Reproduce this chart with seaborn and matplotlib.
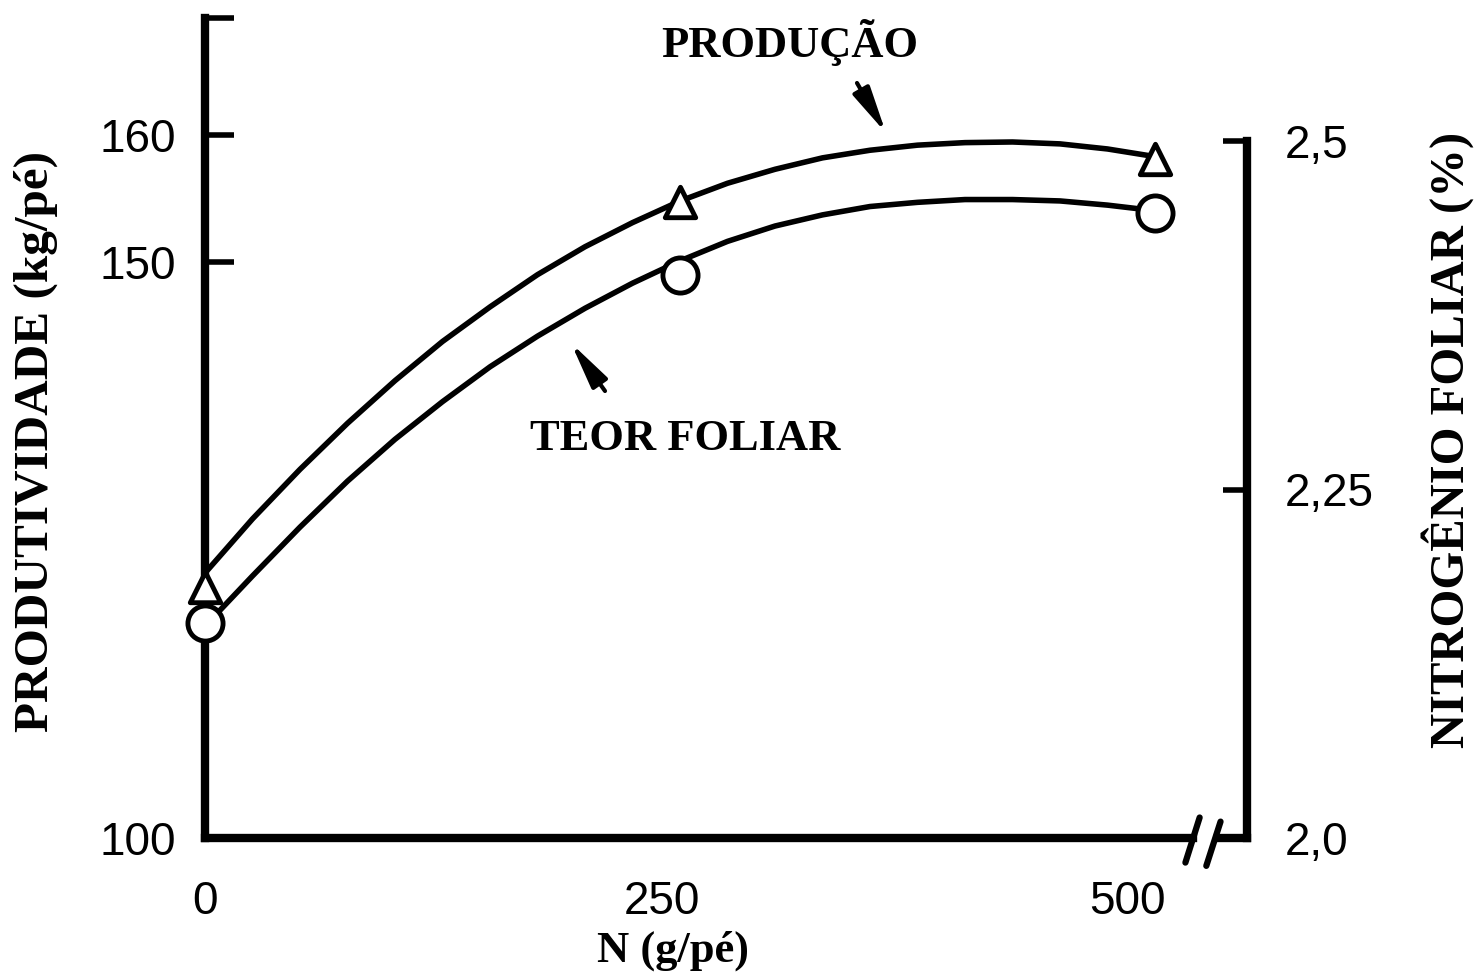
import numpy as np
import pandas as pd
import matplotlib
matplotlib.use("Agg")
import matplotlib.pyplot as plt
import seaborn as sns
from matplotlib.transforms import ScaledTranslation

# ---------------- data ----------------
n_dose = [0, 25, 50, 75, 100, 125, 150, 175, 200, 225, 250,
          275, 300, 325, 350, 375, 400, 425, 450, 475, 500]
producao_curve = [123.0, 127.7, 132.0, 136.0, 139.7, 143.1, 146.1, 148.9, 151.2, 153.1, 154.8,
                  156.2, 157.3, 158.2, 158.8, 159.2, 159.4, 159.45, 159.3, 158.9, 158.3]
teor_curve = [2.152, 2.188, 2.223, 2.256, 2.286, 2.313, 2.338, 2.360, 2.380, 2.398, 2.414,
              2.428, 2.439, 2.447, 2.453, 2.456, 2.458, 2.458, 2.457, 2.454, 2.450]
dose_obs = [0, 250, 500]
producao_obs = [121.8, 154.7, 158.1]
teor_obs = [2.154, 2.404, 2.448]

x_ticks = [0, 250, 500]
x_labels = ["0", "250", "500"]
left_ticks = [100, 150, 160]
left_labels = ["100", "150", "160"]
right_ticks = [2.0, 2.25, 2.5]
right_labels = ["2,0", "2,25", "2,5"]

curves = pd.DataFrame({"N": n_dose, "prod": producao_curve, "teor": teor_curve})
obs = pd.DataFrame({"N": dose_obs, "prod": producao_obs, "teor": teor_obs})

# ---------------- style ----------------
sns.set_style("white")
plt.rcParams["font.family"] = ["Liberation Sans", "DejaVu Sans"]
for key in ("text.color", "axes.labelcolor", "xtick.color", "ytick.color", "axes.edgecolor"):
    plt.rcParams[key] = "black"
SERIF = ["Liberation Serif", "DejaVu Serif"]

W, H = 1476, 977
fig = plt.figure(figsize=(W / 100, H / 100), dpi=100)
ax_l, ax_r, ax_b, ax_t = 205, 1247, 838, 18
ax = fig.add_axes([ax_l / W, (H - ax_b) / H, (ax_r - ax_l) / W, (ax_b - ax_t) / H])
ax_h = ax_b - ax_t

# broken left axis: 100..150 compressed, 150..160 expanded
def fwd(v):
    v = np.asarray(v, dtype=float)
    return np.where(v < 150, (v - 150) * 11.52, (v - 150) * 12.7)

def inv(u):
    u = np.asarray(u, dtype=float)
    return np.where(u < 0, u / 11.52 + 150, u / 12.7 + 150)

lw_curve = 4.0
sns.lineplot(data=curves, x="N", y="prod", ax=ax, color="black",
             linewidth=lw_curve, sort=False)
sns.scatterplot(data=obs, x="N", y="prod", ax=ax, marker="^", s=480,
                color="white", edgecolor="black", linewidth=3.5,
                zorder=5, clip_on=False)

ax.set_yscale("function", functions=(fwd, inv))
ytop = float(inv(fwd(100) + ax_h))
ax.set_ylim(100, ytop)
xmax = (ax_r - ax_l) / 1.9
ax.set_xlim(0, xmax)

ax2 = ax.twinx()
sns.lineplot(data=curves, x="N", y="teor", ax=ax2, color="black",
             linewidth=lw_curve, sort=False)
sns.scatterplot(data=obs, x="N", y="teor", ax=ax2, marker="o", s=640,
                color="white", edgecolor="black", linewidth=3.5,
                zorder=5, clip_on=False)
ax2.set_ylim(2.0, 2.0 + ax_h / 1394)
ax2.set_xlim(0, xmax)

# ---------------- spines ----------------
SP = 6
for a in (ax, ax2):
    a.spines["top"].set_visible(False)
    a.grid(False)
ax.spines["right"].set_visible(False)
ax2.spines["left"].set_visible(False)
ax2.spines["bottom"].set_visible(False)
ax.spines["left"].set_linewidth(SP)
ax.spines["bottom"].set_linewidth(SP)
ax2.spines["right"].set_linewidth(SP)
for s in (ax.spines["left"], ax.spines["bottom"], ax2.spines["right"]):
    s.set_capstyle("projecting")
    s.set_color("black")
ax2.spines["right"].set_bounds(2.0, 2.5)
ax.spines["bottom"].set_bounds(0, 520)
xt = ax.get_xaxis_transform()
ax.plot([533, xmax], [0, 0], transform=xt, color="black", lw=SP,
        solid_capstyle="projecting", clip_on=False)
# break marks
for x0, x1, y0, y1 in [(516.0, 523.5, -0.030, 0.025), (527.0, 534.5, -0.034, 0.020)]:
    ax.plot([x0, x1], [y0, y1], transform=xt, color="black", lw=4.5,
            solid_capstyle="round", clip_on=False)

# ---------------- ticks ----------------
ax.set_yticks(left_ticks + [ytop])
ax.set_yticklabels(left_labels + [""])
ax.tick_params(axis="y", direction="in", length=21, width=4, pad=21,
               labelsize=33, colors="black")
ax.set_xticks(x_ticks)
ax.set_xticklabels(x_labels)
ax.tick_params(axis="x", direction="in", length=17, width=4, pad=30,
               labelsize=33, colors="black")
ax.yaxis.set_minor_locator(matplotlib.ticker.NullLocator())
ax2.set_yticks(right_ticks)
ax2.set_yticklabels(right_labels)
ax2.tick_params(axis="y", direction="in", length=17, width=4, pad=27,
                labelsize=33, colors="black")
ax2.yaxis.set_minor_locator(matplotlib.ticker.NullLocator())
ax2.tick_params(axis="x", bottom=False, labelbottom=False)

# nudge hand-lettered x labels as in the original
xticks_objs = ax.xaxis.get_major_ticks()
for idx, dx in [(1, -18), (2, -28)]:
    lab = xticks_objs[idx].label1
    lab.set_transform(lab.get_transform() + ScaledTranslation(dx / 100, 0, fig.dpi_scale_trans))

# ---------------- axis labels ----------------
ax.set_ylabel("PRODUTIVIDADE (kg/pé)", family=SERIF, fontweight="bold",
              fontsize=35.5, ha="center", va="baseline", color="black")
ax.yaxis.set_label_coords((48 - ax_l) / (ax_r - ax_l), (ax_b - 442) / ax_h)
ax2.set_ylabel("NITROGÊNIO FOLIAR (%)", family=SERIF, fontweight="bold",
               fontsize=35, ha="center", va="baseline", rotation=90, color="black")
ax2.yaxis.set_label_coords((1464 - ax_l) / (ax_r - ax_l), (ax_b - 440) / ax_h)
ax.set_xlabel("N (g/pé)", family=SERIF, fontweight="bold", fontsize=32,
              ha="center", va="baseline", color="black")
ax.xaxis.set_label_coords((673 - ax_l) / (ax_r - ax_l), (ax_b - 962) / ax_h)

# ---------------- annotations ----------------
def fpt(x, y):
    return (x / W, 1 - y / H)

fig.text(*fpt(790, 57), "PRODUÇÃO", family=SERIF, fontweight="bold",
         fontsize=32, ha="center", va="baseline", color="black")
fig.text(*fpt(685, 450), "TEOR FOLIAR", family=SERIF, fontweight="bold",
         fontsize=32, ha="center", va="baseline", color="black")
arrow = dict(arrowstyle="-|>,head_length=1.4,head_width=0.28", lw=3,
             color="black", mutation_scale=20, shrinkA=0, shrinkB=0)
ax.annotate("", xy=fpt(886, 133), xytext=fpt(857, 83),
            xycoords="figure fraction", textcoords="figure fraction",
            arrowprops=arrow)
ax.annotate("", xy=fpt(571, 343), xytext=fpt(605, 391),
            xycoords="figure fraction", textcoords="figure fraction",
            arrowprops=arrow)

fig.savefig("out.png", dpi=100, facecolor="white")
